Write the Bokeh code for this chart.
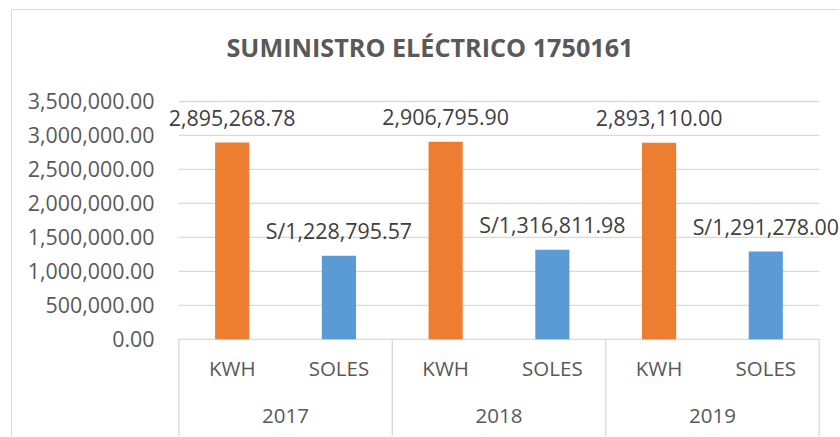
from bokeh.plotting import figure
from bokeh.models import (FactorRange, Range1d, FixedTicker, NumeralTickFormatter,
                          ColumnDataSource, LabelSet, Title)
from bokeh.core.properties import value
from bokeh.embed import file_html
from bokeh.resources import INLINE

# ---- data ----
title_text = "SUMINISTRO ELÉCTRICO 1750161"
years = ["2017", "2018", "2019"]
measures = ["KWH", "SOLES"]
kwh = [2895268.78, 2906795.90, 2893110.00]
soles = [1228795.57, 1316811.98, 1291278.00]
y_ticks = [0, 500000, 1000000, 1500000, 2000000, 2500000, 3000000, 3500000]
label_prefix = {"KWH": "", "SOLES": "S/"}
bar_colors = {"KWH": "#ED7D31", "SOLES": "#5B9BD5"}

factors = [(y, m) for y in years for m in measures]
vals = []
for i, _ in enumerate(years):
    vals += [kwh[i], soles[i]]
labels = [label_prefix[m] + f"{v:,.2f}" for (y, m), v in zip(factors, vals)]
colors = [bar_colors[m] for _, m in factors]

src = ColumnDataSource(dict(x=factors, top=vals, label=labels, color=colors))

# ---- geometry (canvas starts at page x=12, y=10 because of the chart border) ----
W, H = 828, 427
frame_top = 86
units_per_px = y_ticks[-1] / 240.0
y_end = y_ticks[-1] + 2 * units_per_px
y_start = y_end - (H - frame_top) * units_per_px

FONT = "Open Sans"
NUM = "21.4px"
CAT = "20.5px"
GRID = "#d9d9d9"

p = figure(width=W, height=H,
           x_range=FactorRange(*factors, factor_padding=0, subgroup_padding=0,
                               group_padding=0, range_padding=0.2,
                               range_padding_units="absolute"),
           y_range=Range1d(y_start, y_end),
           x_axis_location=None, output_backend="svg", toolbar_location=None,
           min_border_left=145, min_border_right=0, min_border_top=frame_top,
           min_border_bottom=0)

p.styles = {"margin-left": "11px", "margin-top": "9px",
            "border-left": "1px solid #d9d9d9", "border-top": "1px solid #d9d9d9"}

p.background_fill_color = "white"
p.border_fill_color = "white"
p.outline_line_color = None
p.xgrid.visible = False
p.ygrid.visible = False

p.yaxis.ticker = FixedTicker(ticks=y_ticks)
p.yaxis.formatter = NumeralTickFormatter(format="0,0.00")
p.yaxis.axis_line_color = None
p.yaxis.major_tick_line_color = None
p.yaxis.minor_tick_line_color = None
p.yaxis.major_tick_out = 0
p.yaxis.major_tick_in = 0
p.yaxis.major_label_standoff = 3
p.yaxis.major_label_text_font = FONT
p.yaxis.major_label_text_font_size = NUM
p.yaxis.major_label_text_color = "#595959"

# spacer between plot area and title, then the title itself
p.add_layout(Title(text=" ", text_font_size="1px", standoff=12), "above")
p.add_layout(Title(text=title_text, text_font=FONT, text_font_style="bold",
                   text_font_size="25.2px", text_color="#595959", align="left",
                   offset=69, vertical_align="top", standoff=38), "above")

# horizontal gridlines spanning the category area
g_left = (years[0], measures[0], -0.5)
g_right = (years[-1], measures[-1], 0.5)
p.segment(x0=[g_left] * len(y_ticks), x1=[g_right] * len(y_ticks),
          y0=y_ticks, y1=y_ticks, line_color=GRID, line_width=1.3)

# category separators (group boundaries)
sep_x = [(y, measures[0], -0.5) for y in years] + [g_right]
p.segment(x0=sep_x, x1=sep_x, y0=[0] * len(sep_x), y1=[y_start] * len(sep_x),
          line_color=GRID, line_width=1.3)

# bars
p.vbar(x="x", top="top", width=0.32, fill_color="color", line_color=None, source=src)

# data labels
p.add_layout(LabelSet(x="x", y="top", text="label", source=src, y_offset=17,
                      text_align="center", text_baseline="alphabetic",
                      text_font=value(FONT), text_font_size=NUM, text_color="#404040"))

# category labels
p.text(x=factors, y=[0] * len(factors), text=[m for _, m in factors], y_offset=29,
       text_align="center", text_baseline="middle", text_font=value(FONT),
       text_font_size=CAT, text_color="#595959")
p.text(x=years, y=[0] * len(years), text=years, y_offset=77,
       text_align="center", text_baseline="middle", text_font=value(FONT),
       text_font_size=CAT, text_color="#595959")

open("out.html", "w").write(file_html(p, INLINE))
